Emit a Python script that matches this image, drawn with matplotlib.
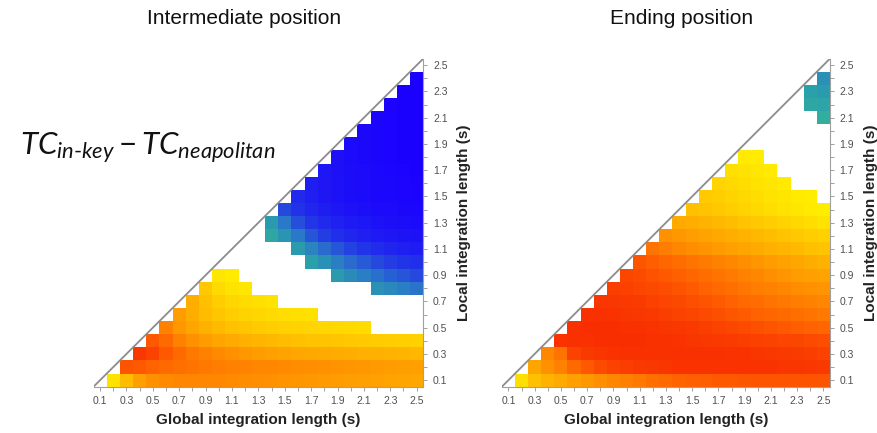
import numpy as np
import matplotlib
matplotlib.use('Agg')
import matplotlib.pyplot as plt
from matplotlib.colors import LinearSegmentedColormap

plt.rcParams['font.family'] = ['Liberation Sans', 'DejaVu Sans']
plt.rcParams['mathtext.fontset'] = 'custom'
plt.rcParams['mathtext.it'] = 'Lato:italic'
plt.rcParams['mathtext.rm'] = 'Lato'

nan = np.nan

glob_len = np.round(np.arange(0.2, 2.51, 0.1), 1)  # column centres (s)
loc_len = np.round(np.arange(0.1, 2.41, 0.1), 1)   # row centres (s)
tick_vals = np.round(np.arange(0.1, 2.51, 0.1), 1)
titles = ['Intermediate position', 'Ending position']

# one list per local length, starting at the first global length above it
# > 0 : in-key larger (yellow->red), < 0 : neapolitan larger (teal->blue), nan : n.s.
inter_rows = [
    [0.10, 0.32, 0.48, 0.55, 0.58, 0.60, 0.60, 0.60, 0.59, 0.58, 0.57, 0.56, 0.55, 0.54, 0.53, 0.52, 0.51, 0.50, 0.49, 0.48, 0.47, 0.46, 0.45, 0.44],
    [0.82, 0.80, 0.76, 0.72, 0.70, 0.68, 0.66, 0.64, 0.62, 0.61, 0.60, 0.59, 0.58, 0.57, 0.56, 0.55, 0.54, 0.53, 0.52, 0.51, 0.50, 0.49, 0.48],
    [0.95, 0.90, 0.80, 0.72, 0.66, 0.62, 0.58, 0.55, 0.52, 0.50, 0.48, 0.46, 0.44, 0.43, 0.42, 0.41, 0.40, 0.39, 0.38, 0.37, 0.36, 0.35],
    [0.80, 0.72, 0.62, 0.55, 0.50, 0.45, 0.42, 0.39, 0.36, 0.34, 0.32, 0.30, 0.28, 0.27, 0.26, 0.25, 0.24, 0.23, 0.22, 0.21, 0.20],
    [0.62, 0.52, 0.45, 0.38, 0.33, 0.29, 0.26, 0.24, 0.22, 0.20, 0.19, 0.18, 0.17, 0.16, 0.15, 0.14, nan, nan, nan, nan],
    [0.50, 0.40, 0.32, 0.26, 0.22, 0.19, 0.17, 0.15, 0.13, 0.12, 0.11, nan, nan, nan, nan, nan, nan, nan, nan],
    [0.40, 0.30, 0.22, 0.17, 0.14, 0.12, 0.10, nan, nan, nan, nan, nan, nan, nan, nan, nan, nan, nan],
    [0.25, 0.15, 0.10, 0.08, nan, nan, nan, nan, nan, nan, nan, nan, nan, -0.25, -0.30, -0.36, -0.42],
    [0.08, 0.06, nan, nan, nan, nan, nan, nan, nan, -0.18, -0.28, -0.36, -0.44, -0.50, -0.55, -0.60],
    [nan, nan, nan, nan, nan, nan, -0.15, -0.25, -0.36, -0.45, -0.53, -0.60, -0.65, -0.69, -0.72],
    [nan, nan, nan, nan, -0.18, -0.32, -0.45, -0.55, -0.63, -0.69, -0.74, -0.78, -0.81, -0.83],
    [nan, -0.10, -0.22, -0.40, -0.55, -0.65, -0.72, -0.77, -0.81, -0.84, -0.86, -0.88, -0.89],
    [-0.18, -0.40, -0.58, -0.68, -0.75, -0.80, -0.84, -0.87, -0.89, -0.91, -0.92, -0.93],
    [-0.60, -0.70, -0.77, -0.82, -0.86, -0.89, -0.91, -0.93, -0.94, -0.95, -0.96],
    [-0.75, -0.81, -0.86, -0.89, -0.92, -0.94, -0.95, -0.96, -0.97, -0.98],
    [-0.82, -0.86, -0.89, -0.92, -0.94, -0.95, -0.96, -0.97, -0.98],
    [-0.87, -0.90, -0.92, -0.94, -0.96, -0.97, -0.98, -0.99],
    [-0.90, -0.93, -0.95, -0.97, -0.98, -0.99, -1.00],
    [-0.93, -0.95, -0.97, -0.98, -0.99, -1.00],
    [-0.95, -0.97, -0.98, -0.99, -1.00],
    [-0.97, -0.98, -0.99, -1.00],
    [-0.98, -0.99, -1.00],
    [-0.99, -1.00],
    [-1.00],
]

ending_rows = [
    [0.12, 0.30, 0.37, 0.42, 0.48, 0.52, 0.56, 0.60, 0.63, 0.66, 0.70, 0.73, 0.75, 0.77, 0.78, 0.80, 0.80, 0.81, 0.82, 0.82, 0.82, 0.82, 0.82, 0.82],
    [0.45, 0.55, 0.62, 0.72, 0.80, 0.86, 0.90, 0.92, 0.94, 0.95, 0.96, 0.97, 0.97, 0.97, 0.97, 0.97, 0.97, 0.97, 0.97, 0.96, 0.96, 0.95, 0.94],
    [0.60, 0.68, 0.90, 0.94, 0.96, 0.97, 0.98, 0.98, 0.98, 0.98, 0.98, 0.98, 0.98, 0.98, 0.97, 0.97, 0.96, 0.95, 0.94, 0.93, 0.92, 0.90],
    [0.97, 0.98, 0.98, 0.99, 0.99, 0.99, 0.99, 0.98, 0.98, 0.97, 0.96, 0.95, 0.94, 0.93, 0.92, 0.91, 0.90, 0.89, 0.88, 0.86, 0.85],
    [0.98, 0.99, 0.99, 0.99, 0.98, 0.98, 0.97, 0.96, 0.95, 0.94, 0.92, 0.90, 0.88, 0.86, 0.84, 0.82, 0.80, 0.78, 0.76, 0.74],
    [0.98, 0.98, 0.97, 0.96, 0.95, 0.94, 0.92, 0.90, 0.88, 0.86, 0.84, 0.81, 0.79, 0.76, 0.74, 0.72, 0.70, 0.68, 0.66],
    [0.96, 0.95, 0.94, 0.93, 0.91, 0.89, 0.87, 0.84, 0.82, 0.79, 0.76, 0.73, 0.71, 0.68, 0.66, 0.64, 0.62, 0.60],
    [0.92, 0.91, 0.89, 0.87, 0.85, 0.82, 0.79, 0.76, 0.73, 0.70, 0.67, 0.64, 0.62, 0.59, 0.57, 0.55, 0.53],
    [0.88, 0.86, 0.83, 0.80, 0.77, 0.74, 0.71, 0.68, 0.65, 0.62, 0.59, 0.56, 0.53, 0.50, 0.48, 0.46],
    [0.82, 0.78, 0.74, 0.71, 0.68, 0.65, 0.62, 0.59, 0.56, 0.53, 0.50, 0.47, 0.44, 0.41, 0.38],
    [0.68, 0.64, 0.60, 0.57, 0.54, 0.51, 0.48, 0.45, 0.42, 0.39, 0.36, 0.33, 0.30, 0.28],
    [0.55, 0.52, 0.49, 0.46, 0.43, 0.40, 0.37, 0.34, 0.31, 0.28, 0.25, 0.22, 0.20],
    [0.42, 0.40, 0.37, 0.34, 0.31, 0.28, 0.25, 0.22, 0.19, 0.16, 0.13, 0.10],
    [0.30, 0.28, 0.25, 0.22, 0.19, 0.16, 0.13, 0.10, 0.08, 0.06, 0.04],
    [0.24, 0.22, 0.19, 0.16, 0.13, 0.10, 0.08, 0.06, 0.04, nan],
    [0.18, 0.16, 0.13, 0.10, 0.08, 0.06, nan, nan, nan],
    [0.12, 0.10, 0.08, 0.06, nan, nan, nan, nan],
    [0.06, 0.05, nan, nan, nan, nan, nan],
    [nan, nan, nan, nan, nan, nan],
    [nan, nan, nan, nan, nan],
    [nan, nan, nan, -0.05],
    [nan, -0.10, -0.12],
    [-0.15, -0.18],
    [-0.25],
]


def to_grid(rows):
    z = np.full((len(loc_len), len(glob_len)), nan)
    for i, r in enumerate(rows):
        z[i, i:] = r
    return z


cmap_pos = LinearSegmentedColormap.from_list('pos', ['#fff400', '#ffc800', '#ff9c00', '#ff6400', '#f82c00'])
cmap_neg = LinearSegmentedColormap.from_list(
    'neg', [(0, '#36b49a'), (0.15, '#2aa0aa'), (0.4, '#2a78c8'), (0.7, '#2232e8'), (1, '#1a00ff')])

# cell edges
xe = np.round(np.append(glob_len - 0.05, glob_len[-1] + 0.05), 2)
ye = np.round(np.append(loc_len - 0.05, loc_len[-1] + 0.05), 2)

fig = plt.figure(figsize=(8.78, 4.33), dpi=100)
axes = [fig.add_axes([0.1065, 0.1069, 0.3756, 0.7577]),
        fig.add_axes([0.5716, 0.1069, 0.3737, 0.7577])]

grey = '#8c8c8c'
for ax, rows in zip(axes, [inter_rows, ending_rows]):
    z = to_grid(rows)
    pos = np.ma.masked_where(~(z > 0), z)
    neg = np.ma.masked_where(~(z < 0), -z)
    ax.pcolormesh(xe, ye, pos, cmap=cmap_pos, vmin=0, vmax=1, shading='flat', antialiased=False)
    ax.pcolormesh(xe, ye, neg, cmap=cmap_neg, vmin=0, vmax=1, shading='flat', antialiased=False)
    ax.plot([0.05, 2.55], [0.05, 2.55], color=grey, lw=1.3)

    ax.set_xlim(0.05, 2.55)
    ax.set_ylim(0.05, 2.55)
    for s in ['top', 'left']:
        ax.spines[s].set_visible(False)
    for s in ['bottom', 'right']:
        ax.spines[s].set_color('#a0a0a0')
        ax.spines[s].set_linewidth(0.8)

    labels = [f'{t:.1f}' if k % 2 == 0 else '' for k, t in enumerate(tick_vals)]
    ax.set_xticks(tick_vals)
    ax.set_xticklabels(labels)
    ax.yaxis.tick_right()
    ax.yaxis.set_label_position('right')
    ax.set_yticks(tick_vals)
    ax.set_yticklabels(labels)
    ax.tick_params(length=3, width=0.7, color='#a0a0a0', labelsize=7.5, labelcolor='#505050', pad=4)

    ax.set_xlabel('Global integration length (s)', fontsize=11, fontweight='bold', color='#222222', labelpad=5)
    ax.set_ylabel('Local integration length (s)', fontsize=11, fontweight='bold', color='#222222',
                  rotation=90, labelpad=7)

fig.text(244 / 878, 1 - 19 / 433, titles[0], fontsize=15, ha='center', va='center', color='#111111')
fig.text(682 / 878, 1 - 19 / 433, titles[1], fontsize=15, ha='center', va='center', color='#111111')

fig.text(20 / 878, 1 - 155 / 433, r'$TC_{in\text{-}key} - TC_{neapolitan}$', fontsize=22.5,
         ha='left', va='baseline', color='#111111')

fig.savefig('out.png', dpi=100)
